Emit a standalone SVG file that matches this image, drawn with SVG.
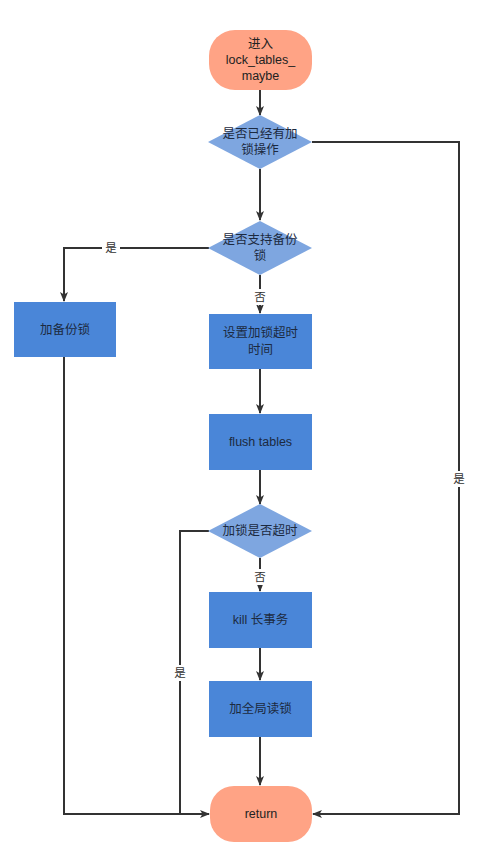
<svg xmlns="http://www.w3.org/2000/svg" width="500" height="851" viewBox="0 0 500 851">
<style>
.term{fill:#ffa385;}
.dia{fill:#7ea6e0;}
.box{fill:#4a86d8;}
.t{font-family:"Liberation Sans","Noto Sans CJK SC",sans-serif;font-size:12.5px;fill:#1c2a40;text-anchor:middle;dominant-baseline:central;}
.tt{font-family:"Liberation Sans","Noto Sans CJK SC",sans-serif;font-size:12.5px;fill:#222;text-anchor:middle;dominant-baseline:central;}
.lbl{font-family:"Liberation Sans","Noto Sans CJK SC",sans-serif;font-size:11.5px;fill:#333;text-anchor:middle;dominant-baseline:central;}
.lb{fill:#fff;}
.c{fill:none;stroke:#333;stroke-width:2;}
</style>
<defs>
<marker id="ah" markerWidth="10" markerHeight="10" refX="9" refY="5" orient="auto" markerUnits="userSpaceOnUse">
<path d="M0,1 L10,5 L0,9 L2.5,5 Z" fill="#333"/>
</marker>
</defs>
<rect width="500" height="851" fill="#fff"/>
<g id="connectors">
<path class="c" d="M260,90 V115" marker-end="url(#ah)"/>
<path class="c" d="M312,142 H459 V814 H313" marker-end="url(#ah)"/>
<path class="c" d="M260,169 V220" marker-end="url(#ah)"/>
<path class="c" d="M209,248 H64 V301" marker-end="url(#ah)"/>
<path class="c" d="M260,275 V313" marker-end="url(#ah)"/>
<path class="c" d="M64,357 V814 H209" marker-end="url(#ah)"/>
<path class="c" d="M260,369 V413" marker-end="url(#ah)"/>
<path class="c" d="M260,470 V504" marker-end="url(#ah)"/>
<path class="c" d="M209,531 H180 V814"/>
<path class="c" d="M260,558 V591" marker-end="url(#ah)"/>
<path class="c" d="M260,648 V680" marker-end="url(#ah)"/>
<path class="c" d="M260,737 V785" marker-end="url(#ah)"/>
<rect class="lb" x="102" y="240" width="18" height="16"/>
<text class="lbl" x="111" y="248">是</text>
<rect class="lb" x="252" y="289" width="16" height="16"/>
<text class="lbl" x="260" y="297">否</text>
<rect class="lb" x="451" y="471" width="16" height="16"/>
<text class="lbl" x="459" y="479">是</text>
<rect class="lb" x="252" y="569" width="16" height="16"/>
<text class="lbl" x="260" y="577">否</text>
<rect class="lb" x="172" y="665" width="16" height="16"/>
<text class="lbl" x="180" y="673">是</text>
</g>
<g id="start">
<rect class="term" x="209" y="30" width="103" height="60" rx="26" ry="26"/>
<text class="tt" x="260.5" y="44">进入</text>
<text class="tt" x="260.5" y="60">lock_tables_</text>
<text class="tt" x="260.5" y="76">maybe</text>
</g>
<g id="d1">
<polygon class="dia" points="260,115 312,142 260,169 208,142"/>
<text class="t" x="260" y="134">是否已经有加</text>
<text class="t" x="260" y="150">锁操作</text>
</g>
<g id="d2">
<polygon class="dia" points="260,221 312,248 260,275 208,248"/>
<text class="t" x="260" y="240">是否支持备份</text>
<text class="t" x="260" y="256">锁</text>
</g>
<g id="backup">
<rect class="box" x="14" y="302" width="102" height="55"/>
<text class="t" x="65" y="329.5">加备份锁</text>
</g>
<g id="timeout">
<rect class="box" x="209" y="314" width="103" height="55"/>
<text class="t" x="260.5" y="333">设置加锁超时</text>
<text class="t" x="260.5" y="350">时间</text>
</g>
<g id="flush">
<rect class="box" x="209" y="414" width="103" height="56"/>
<text class="t" x="260.5" y="442">flush tables</text>
</g>
<g id="d3">
<polygon class="dia" points="260,504 312,531 260,558 208,531"/>
<text class="t" x="260" y="531">加锁是否超时</text>
</g>
<g id="kill">
<rect class="box" x="209" y="592" width="103" height="56"/>
<text class="t" x="260.5" y="620">kill 长事务</text>
</g>
<g id="global">
<rect class="box" x="209" y="681" width="103" height="56"/>
<text class="t" x="260.5" y="709">加全局读锁</text>
</g>
<g id="return">
<rect class="term" x="210" y="786" width="102" height="56" rx="24" ry="24"/>
<text class="tt" x="261" y="814">return</text>
</g>
</svg>
